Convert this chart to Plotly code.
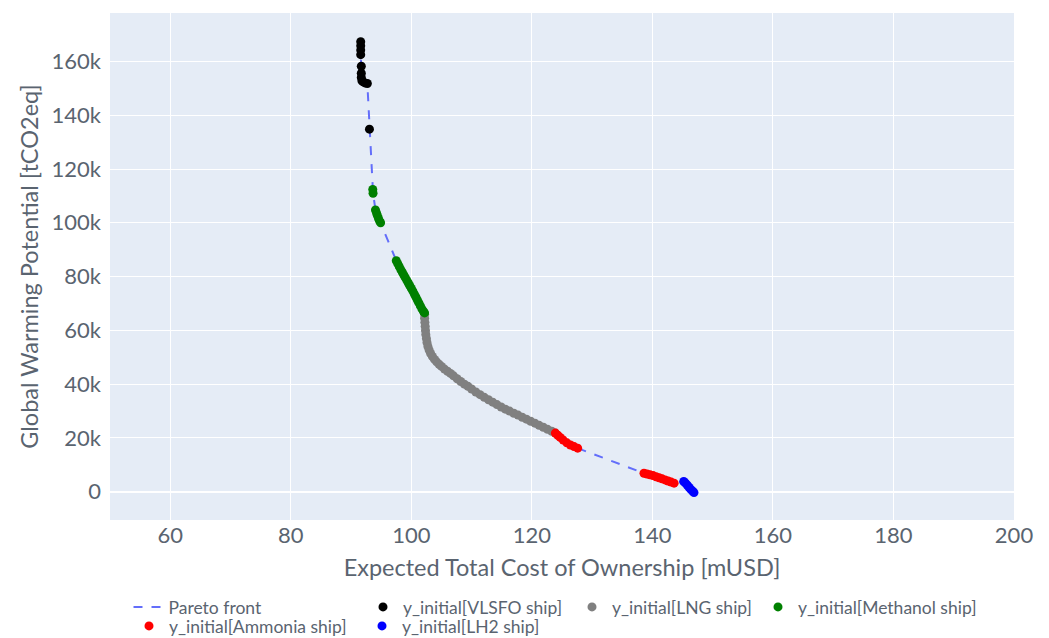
import plotly.graph_objects as go

# ---- data (x: mUSD, y: thousand tCO2eq) ----
vlsfo_x = [91.6, 91.6, 91.6, 91.6, 91.7, 91.7, 91.7, 91.8, 92.0, 92.3, 92.7, 93.05]
vlsfo_y = [167.3, 165.8, 164.2, 162.5, 158.2, 155.6, 154.0, 152.8, 152.4, 152.0, 151.8, 134.8]

methanol_x = [93.6, 93.65, 94.05, 94.2, 94.35, 94.55, 94.75, 94.9,
              97.5, 97.75, 98.0, 98.25, 98.5, 98.75, 99.0, 99.25, 99.5, 99.75,
              100.0, 100.25, 100.5, 100.75, 101.0, 101.25, 101.5, 101.75, 102.0, 102.2]
methanol_y = [112.4, 111.0, 104.8, 103.8, 102.8, 101.6, 100.6, 100.0,
              85.9, 84.8, 83.7, 82.6, 81.6, 80.6, 79.6, 78.6, 77.6, 76.6,
              75.6, 74.6, 73.5, 72.4, 71.3, 70.2, 69.1, 68.0, 67.1, 66.5]

lng_x = [102.2, 102.2, 102.25, 102.3, 102.35, 102.4, 102.5, 102.6, 102.75, 102.95,
         103.2, 103.5, 103.85, 104.2, 104.6, 105.0, 105.5, 106.0, 106.5, 107.0,
         107.6, 108.2, 108.8, 109.4, 110.0, 110.7, 111.4, 112.1, 112.8, 113.5,
         114.2, 114.9, 115.6, 116.3, 117.0, 117.7, 118.4, 119.1, 119.8, 120.5,
         121.2, 121.9, 122.6, 123.3, 123.9]
lng_y = [66.0, 64.5, 63.0, 61.5, 60.0, 58.5, 57.0, 55.5, 54.0, 52.7,
         51.4, 50.3, 49.2, 48.3, 47.4, 46.6, 45.6, 44.8, 44.0, 43.1,
         42.0, 41.0, 40.0, 39.2, 38.2, 37.1, 36.1, 35.1, 34.2, 33.3,
         32.4, 31.5, 30.7, 30.0, 29.2, 28.5, 27.7, 27.0, 26.2, 25.5,
         24.7, 24.0, 23.2, 22.5, 21.8]

ammonia_x = [123.9, 124.3, 124.7, 125.2, 125.8, 126.4, 127.0, 127.6,
             138.6, 139.1, 139.6, 140.1, 140.6, 141.1, 141.6, 142.1, 142.6, 143.1, 143.6]
ammonia_y = [21.8, 21.0, 20.2, 19.2, 18.2, 17.4, 16.8, 16.2,
             6.9, 6.6, 6.3, 6.0, 5.6, 5.2, 4.8, 4.4, 4.0, 3.6, 3.2]

lh2_x = [145.2, 145.5, 145.8, 146.1, 146.4, 146.7, 146.9]
lh2_y = [3.8, 3.2, 2.4, 1.6, 0.8, 0.2, -0.3]

pareto_x = vlsfo_x + methanol_x + lng_x + ammonia_x + lh2_x
pareto_y = vlsfo_y + methanol_y + lng_y + ammonia_y + lh2_y

FONT = "Lato"
TXT = "#5a6470"
LEG_FONT = dict(family=FONT, size=17.5, color=TXT)

def k(v):
    return [a * 1000 for a in v]

fig = go.Figure()
fig.add_trace(go.Scatter(x=pareto_x, y=k(pareto_y), mode="lines", name="Pareto front",
                         line=dict(color="#636efa", dash="dash", width=2),
                         legend="legend", showlegend=True))
series = [
    ("y_initial[VLSFO ship]", vlsfo_x, vlsfo_y, "black", "legend2"),
    ("y_initial[LNG ship]", lng_x, lng_y, "grey", "legend3"),
    ("y_initial[Methanol ship]", methanol_x, methanol_y, "green", "legend4"),
    ("y_initial[Ammonia ship]", ammonia_x, ammonia_y, "red", "legend5"),
    ("y_initial[LH2 ship]", lh2_x, lh2_y, "blue", "legend6"),
]
for name, xs, ys, c, lg in series:
    fig.add_trace(go.Scatter(x=xs, y=k(ys), mode="markers", name=name,
                             marker=dict(color=c, size=9), legend=lg, showlegend=True))

W, H = 1041, 630
L, R, T, B = 102, 35, 5, 118
PW, PH = W - L - R, H - T - B

def lx(sym_x):
    return (sym_x - 20 - L) / PW

def ly(row_y):
    return (H - B - row_y) / PH

def leg(sx, ry):
    return dict(x=lx(sx), y=ly(ry), xanchor="left", yanchor="middle",
                font=LEG_FONT, bgcolor="rgba(0,0,0,0)", borderwidth=0)

fig.update_layout(
    width=W, height=H,
    showlegend=True,
    margin=dict(l=L, r=R, t=T, b=B, autoexpand=False),
    plot_bgcolor="#e5ecf6", paper_bgcolor="white",
    font=dict(family=FONT, color=TXT, size=17),
    legend=leg(140.5, 599),
    legend2=leg(375, 599),
    legend3=leg(584, 599),
    legend4=leg(770, 599),
    legend5=leg(141, 618),
    legend6=leg(374, 618),
    xaxis=dict(range=[50, 200], dtick=20, gridcolor="white", zeroline=False,
               title=dict(text="Expected Total Cost of Ownership [mUSD]", font=dict(size=23.5),
                          standoff=12),
               tickfont=dict(size=22)),
    yaxis=dict(range=[-10500, 178000], dtick=20000, gridcolor="white",
               zeroline=True, zerolinecolor="white", zerolinewidth=2,
               ticklabelstandoff=8,
               title=dict(text="Global Warming Potential [tCO2eq]", font=dict(size=23.5),
                          standoff=6),
               tickfont=dict(size=22)),
)
fig.write_html("out.html")
